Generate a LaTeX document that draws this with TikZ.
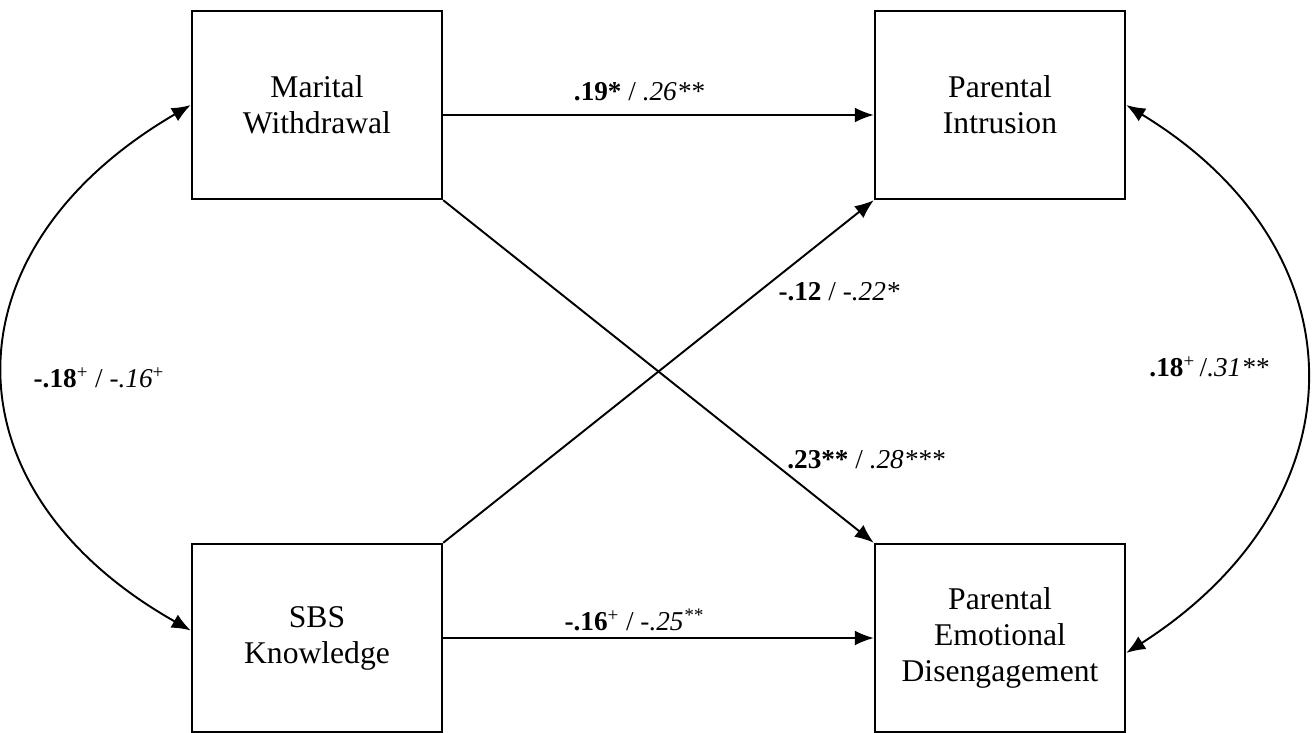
\documentclass[tikz,border=0pt]{standalone}
\usepackage{fontspec}
\setmainfont{Liberation Serif}
\usetikzlibrary{arrows.meta}

\tikzset{
  varbox/.style={draw, line width=1.4pt, minimum width=5cm, minimum height=3.76cm,
    align=center, inner sep=0pt, font=\fontsize{18}{20.5}\selectfont},
  path/.style={line width=1.1pt, -{Latex[length=0.38cm,width=0.3cm]}},
  corr/.style={line width=1.1pt, {Latex[length=0.38cm,width=0.3cm]}-{Latex[length=0.38cm,width=0.3cm]}},
  coef/.style={font=\fontsize{15.5}{17}\selectfont, inner sep=1pt}
}

\begin{document}
\begin{tikzpicture}[x=0.02cm, y=-0.02cm]
  \useasboundingbox (0,0) rectangle (1314,733);

  % Draw the four variables
  \node[varbox] (mw)  at (317,105) {Marital\\Withdrawal};
  \node[varbox] (pi)  at (1000,105) {Parental\\Intrusion};
  \node[varbox] (sbs) at (317,638) {SBS\\Knowledge};
  \node[varbox] (ped) at (1000,638) {Parental\\Emotional\\Disengagement};

  % Draw the paths
  \draw[path] ([yshift=-0.2cm]mw.east) -- ([yshift=-0.2cm]pi.west);
  \draw[path] (sbs.east) -- (ped.west);
  \draw[path] (mw.south east) -- (ped.north west);
  \draw[path] (sbs.north east) -- (pi.south west);

  % Draw the correlations
  \draw[corr] (mw.west) .. controls (-58,250) and (-58,490) .. ([yshift=0.15cm]sbs.west);
  \draw[corr] (pi.east) .. controls (1365,250) and (1365,500) .. ([yshift=-0.3cm]ped.east);

  % Coefficients
  \node[coef] (c1) at (639,92)   {\textbf{.19*} / \textit{.26**}};
  \node[coef] (c2) at (839,292)  {\textbf{-.12} / \textit{-.22*}};
  \node[coef] (c3) at (866,460)  {\textbf{.23**} / \textit{.28***}};
  \node[coef] (c4) at (634,620)  {\textbf{-.16}\textsuperscript{+} / \textit{-.25}\textsuperscript{\textit{**}}};
  \node[coef] (c5) at (99,378)   {\textbf{-.18}\textsuperscript{+} / \textit{-.16}\textsuperscript{+}};
  \node[coef] (c6) at (1209,367) {\textbf{.18}\textsuperscript{+}\,/\textit{.31**}};
\end{tikzpicture}
\end{document}
